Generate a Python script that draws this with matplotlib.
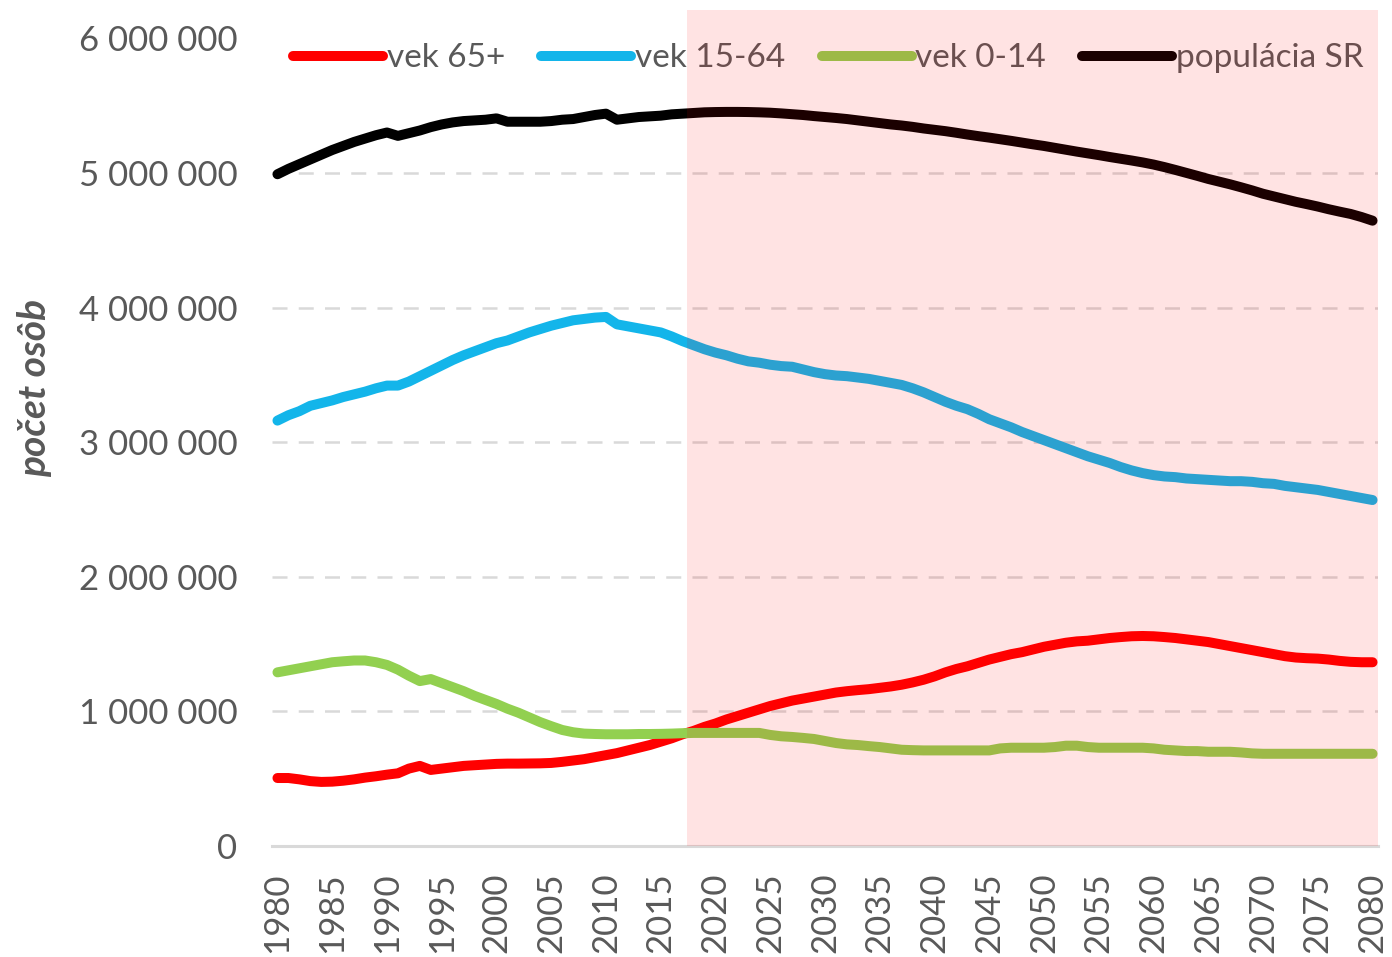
#!/usr/bin/env python3
"""Population of Slovakia by age group, 1980-2080 (history + projection)."""

import numpy as np
import matplotlib
matplotlib.use("Agg")
import matplotlib.pyplot as plt
from matplotlib.ticker import FuncFormatter

plt.rcParams["font.family"] = ["Lato", "DejaVu Sans"]

years = list(range(1980, 2081))

# values in thousands of persons
age_65_plus = [
    505, 505, 495, 482, 476, 478, 485, 495, 508, 518,
    530, 540, 575, 595, 565, 575, 585, 595, 600, 605,
    610, 612, 612, 613, 614, 617, 625, 635, 645, 660,
    675, 690, 710, 730, 750, 775, 800, 830, 855, 885,
    910, 940, 965, 990, 1015, 1040, 1060, 1080, 1095, 1110,
    1125, 1140, 1150, 1158, 1165, 1175, 1185, 1198, 1215, 1235,
    1260, 1290, 1315, 1335, 1360, 1385, 1405, 1425, 1440, 1460,
    1480, 1495, 1510, 1520, 1525, 1535, 1545, 1552, 1558, 1560,
    1558, 1552, 1545, 1535, 1525, 1515, 1500, 1485, 1470, 1455,
    1440, 1425, 1410, 1400, 1395, 1392, 1385, 1375, 1368, 1365,
    1365,
]
age_15_64 = [
    3160, 3200, 3230, 3270, 3290, 3310, 3335, 3355, 3375, 3400,
    3420, 3420, 3450, 3490, 3530, 3570, 3610, 3645, 3675, 3705,
    3735, 3755, 3785, 3815, 3840, 3865, 3885, 3905, 3915, 3925,
    3930, 3875, 3860, 3845, 3830, 3815, 3785, 3750, 3720, 3690,
    3665, 3645, 3620, 3600, 3590, 3575, 3565, 3560, 3540, 3520,
    3505, 3495, 3490, 3480, 3470, 3455, 3440, 3425, 3400, 3370,
    3335, 3300, 3270, 3245, 3210, 3170, 3140, 3110, 3075, 3045,
    3015, 2985, 2955, 2925, 2895, 2870, 2845, 2815, 2790, 2770,
    2755, 2745, 2740, 2730, 2725, 2720, 2715, 2710, 2710, 2705,
    2695, 2690, 2675, 2665, 2655, 2645, 2630, 2615, 2600, 2585,
    2570,
]
age_0_14 = [
    1290, 1305, 1320, 1335, 1350, 1365, 1372, 1378, 1378, 1365,
    1345, 1310, 1265, 1225, 1240, 1210, 1180, 1150, 1115, 1085,
    1055, 1020, 990, 955, 920, 890, 862, 845, 835, 832,
    830, 830, 830, 832, 832, 833, 835, 838, 840, 840,
    840, 840, 840, 840, 840, 825, 815, 810, 803, 795,
    780, 765, 755, 750, 742, 735, 725, 715, 712, 710,
    710, 710, 710, 710, 710, 710, 725, 730, 730, 730,
    730, 735, 745, 745, 735, 730, 730, 730, 730, 730,
    725, 715, 710, 705, 705, 700, 700, 700, 695, 688,
    685, 685, 685, 685, 685, 685, 685, 685, 685, 685,
    685,
]
population_sr = [
    4990, 5030, 5065, 5100, 5135, 5170, 5200, 5230, 5255, 5280,
    5300, 5275, 5295, 5315, 5340, 5360, 5375, 5385, 5390, 5395,
    5405, 5380, 5380, 5380, 5380, 5385, 5395, 5400, 5415, 5430,
    5440, 5395, 5405, 5415, 5420, 5425, 5435, 5440, 5445, 5450,
    5452, 5453, 5453, 5452, 5450, 5447, 5442, 5436, 5430, 5422,
    5415, 5408, 5400, 5390, 5380, 5370, 5360, 5352, 5342, 5330,
    5320, 5310, 5298, 5285, 5273, 5262, 5250, 5238, 5225, 5212,
    5200, 5186, 5172, 5158, 5145, 5132, 5118, 5105, 5092, 5078,
    5062, 5043, 5022, 5000, 4978, 4955, 4935, 4915, 4893, 4870,
    4845, 4825, 4805, 4785, 4768, 4750, 4730, 4712, 4695, 4672,
    4645,
]

series = [
    ("vek 65+", age_65_plus, "#FF0000"),
    ("vek 15-64", age_15_64, "#13B5EA"),
    ("vek 0-14", age_0_14, "#92D050"),
    ("populácia SR", population_sr, "#000000"),
]
projection_start = 2017.4
text_color = "#595959"

fig = plt.figure(figsize=(13.92, 9.57), dpi=100)
ax = fig.add_axes([272 / 1392, (957 - 846) / 957, (1378 - 272) / 1392, (846 - 10) / 957])

for label, values, color in series:
    ax.plot(years, np.array(values) * 1000, color=color, lw=7.2, label=label,
            solid_capstyle="round", solid_joinstyle="round", zorder=3)

ax.axvspan(projection_start, 2080.5, color="red", alpha=0.11, lw=0, zorder=10)

ax.set_xlim(1979.5, 2080.5)
ax.set_ylim(0, 6.21e6)
ax.set_xticks(range(1980, 2081, 5))
ax.set_yticks(np.arange(0, 6.5e6, 1e6))
ax.yaxis.set_major_formatter(FuncFormatter(lambda v, _: f"{int(v):,}".replace(",", " ")))
ax.tick_params(axis="x", labelrotation=90, length=0, pad=19, labelsize=25, labelcolor=text_color)
ax.tick_params(axis="y", length=0, pad=25, labelsize=25, labelcolor=text_color)

ax.grid(axis="y", color="#D9D9D9", lw=1.8, linestyle=(0, (6, 4.5)), zorder=1)
gl = ax.yaxis.get_gridlines()
gl[0].set_visible(False)
gl[-1].set_visible(False)

for side in ("top", "right", "left"):
    ax.spines[side].set_visible(False)
ax.spines["bottom"].set_color("#D9D9D9")
ax.spines["bottom"].set_linewidth(2.2)

ax.set_ylabel("počet osôb", fontsize=28, fontweight="bold", style="italic", color=text_color)
ax.yaxis.set_label_coords(-0.199, 0.548)

leg = ax.legend(loc="center", bbox_to_anchor=(0.503, 0.942), ncol=4, frameon=False,
                fontsize=24, handlelength=2.7, handletextpad=0.1, columnspacing=1.1,
                labelcolor=text_color, borderaxespad=0)
leg.set_zorder(4)

fig.savefig("out.png", dpi=100)
